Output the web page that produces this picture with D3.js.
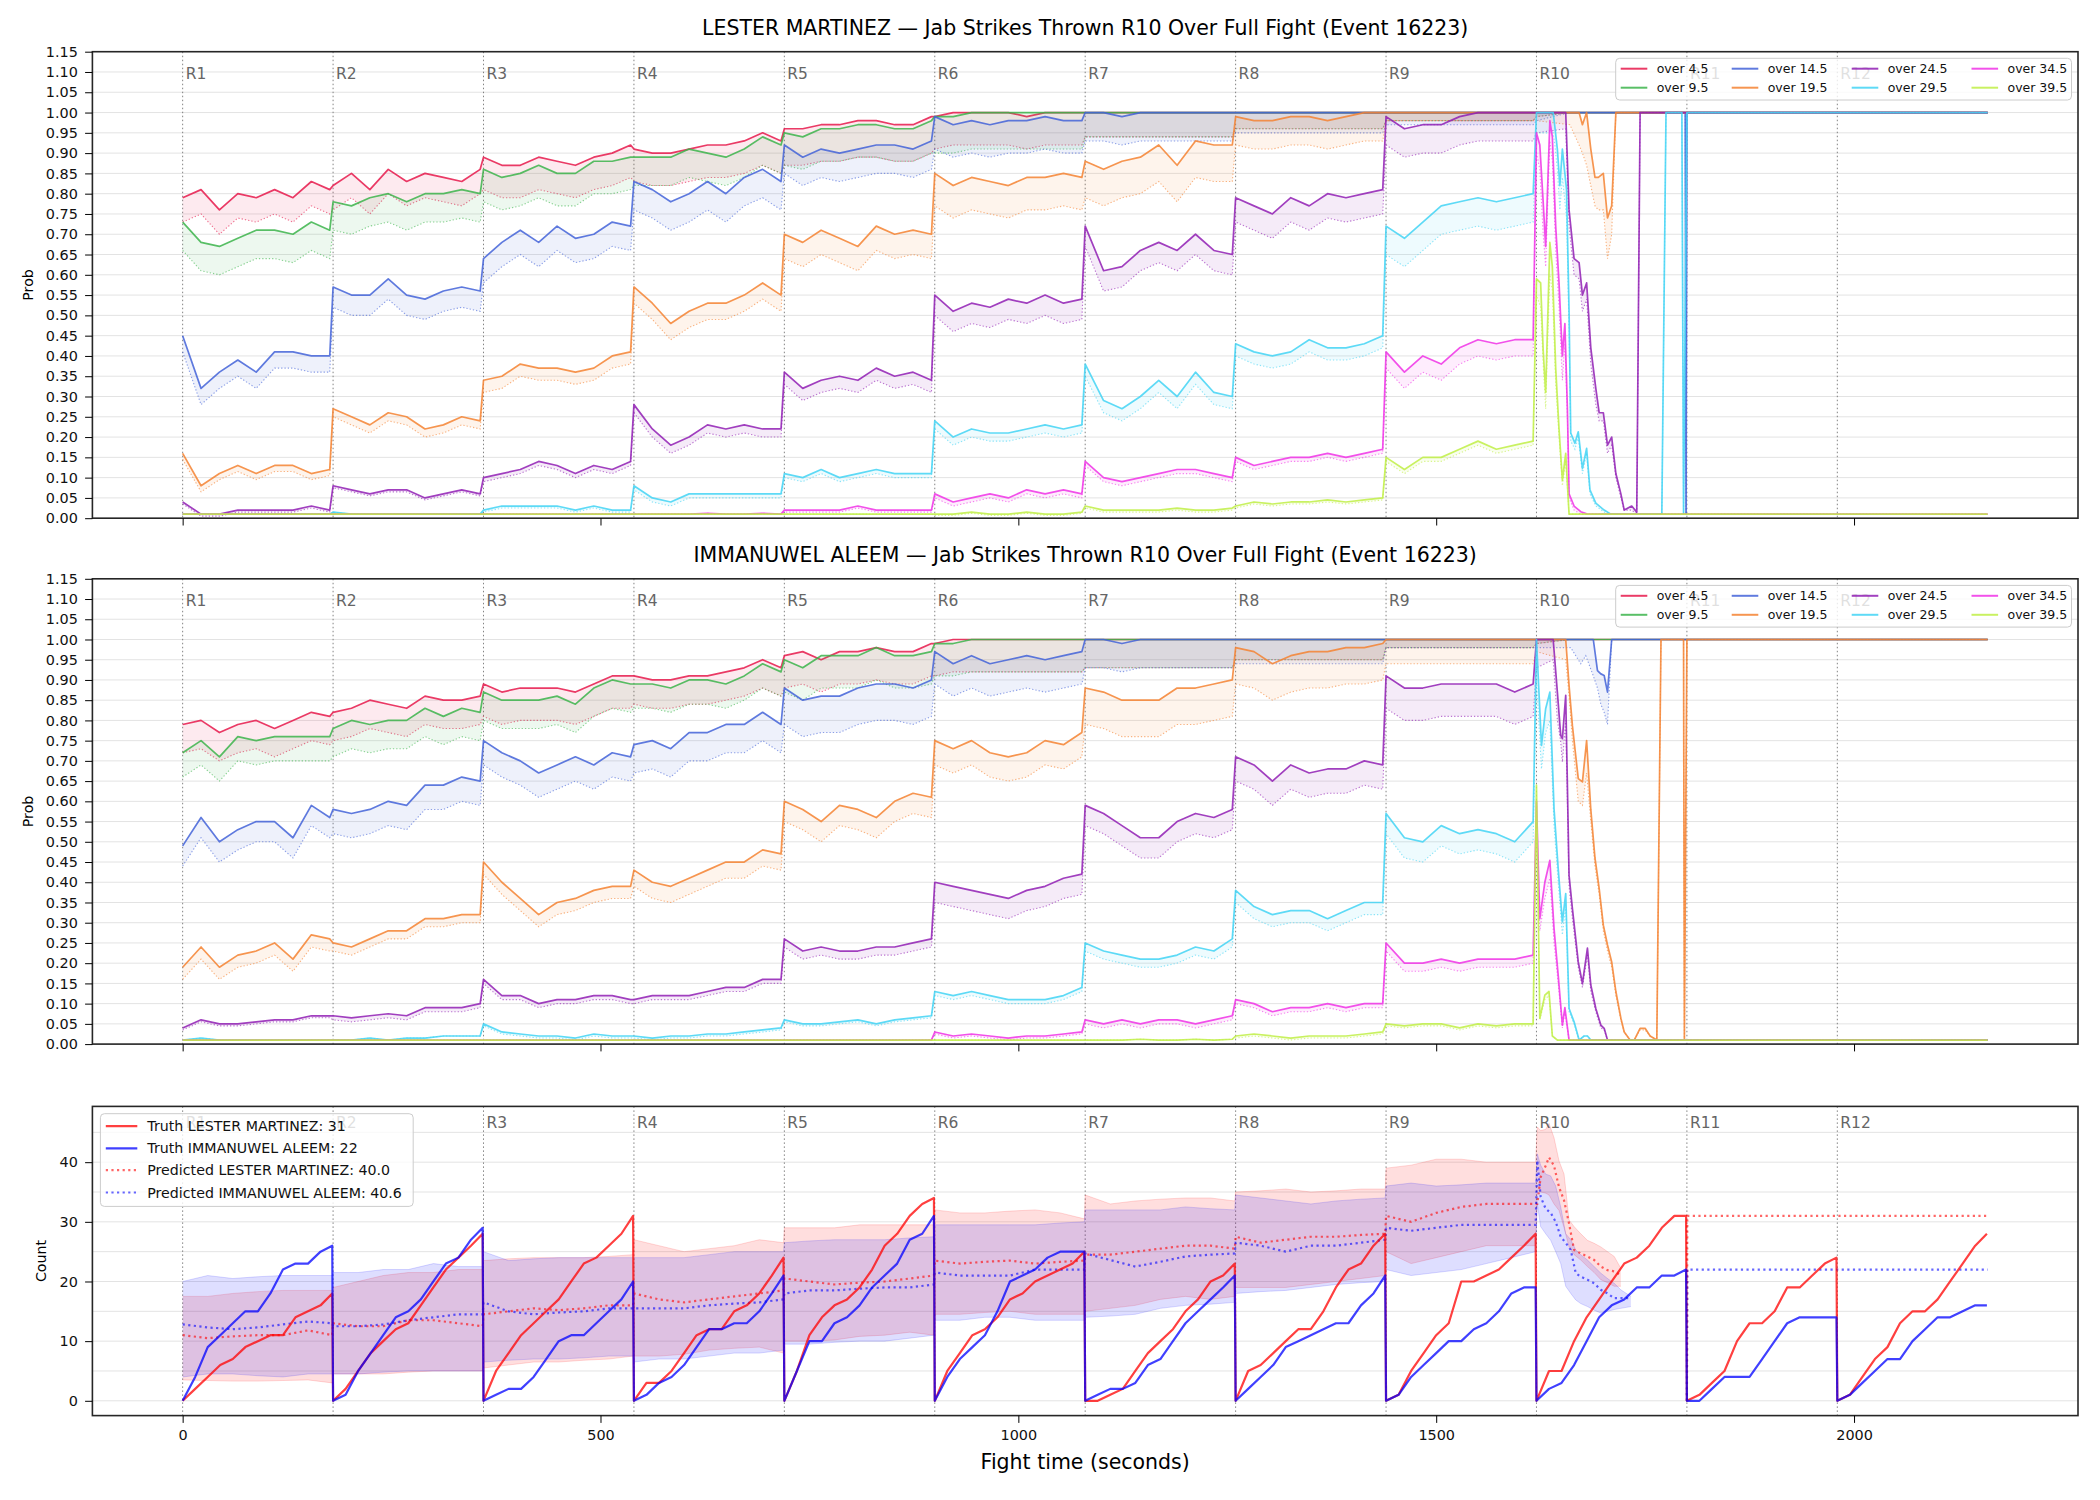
<!DOCTYPE html>
<html>
<head>
<meta charset="utf-8">
<script src="https://cdn.jsdelivr.net/npm/d3@7"></script>
<style>
  body { margin: 0; background: #fff; }
  text { font-family: "DejaVu Sans", sans-serif; }
</style>
</head>
<body>
<div id="chart"></div>
<script>
// ---------- DATA ----------
const roundLabels = ['R1','R2','R3','R4','R5','R6','R7','R8','R9','R10','R11','R12'];
const roundLen = 180;
const thresholds = ['over 4.5','over 9.5','over 14.5','over 19.5','over 24.5','over 29.5','over 34.5','over 39.5'];
const probTicks = [0,0.05,0.1,0.15,0.2,0.25,0.3,0.35,0.4,0.45,0.5,0.55,0.6,0.65,0.7,0.75,0.8,0.85,0.9,0.95,1,1.05,1.1,1.15];
const countTicks = [0,10,20,30,40];
const countGrid = [0,5,10,15,20,25,30,35,40,45];
const timeTicks = [0,500,1000,1500,2000];

// prob samples (percent) per round R1-R9, taken at these seconds into the round
const probOffsets = [0,22,44,66,88,110,132,154,176];
const ones = [1,1,1,1,1,1,1,1,1];
const full = [100,100,100,100,100,100,100,100,100];

// LESTER MARTINEZ
const lm4_5 = [[79,81,76,80,79,81,79,83,81],[82,85,81,86,83,85,84,83,86],[89,87,87,89,88,87,89,90,92],
  [91,90,90,91,92,92,93,95,93],[96,96,97,97,98,98,97,97,99],[99,100,100,100,100,99,100,100,100],full,full,full];
const lm9_5 = [[73,68,67,69,71,71,70,73,71],[78,77,79,80,78,80,80,81,80],[86,84,85,87,85,85,88,88,89],
  [89,89,89,91,90,89,91,94,92],[95,94,96,96,97,97,96,96,98],[99,99,100,100,100,100,100,100,100],full,full,full];
const lm14_5 = [[45,32,36,39,36,41,41,40,40],[57,55,55,59,55,54,56,57,56],[64,68,71,68,72,69,70,73,72],
  [83,81,78,80,83,80,84,86,83],[92,89,91,90,91,92,92,91,93],[99,97,98,97,98,98,99,98,98],
  [100,100,99,100,100,100,100,100,100],full,full];
const lm19_5 = [[16,8,11,13,11,13,13,11,12],[27,25,23,26,25,22,23,25,24],[34,35,38,37,37,36,37,40,41],
  [57,53,48,51,53,53,55,58,55],[70,68,71,69,67,72,70,71,70],[85,82,84,83,82,84,84,85,84],
  [88,86,88,89,92,87,93,92,92],[99,98,98,99,99,98,99,100,100],full];
const lm24_5 = [[4,1,1,2,2,2,2,3,2],[8,7,6,7,7,5,6,7,6],[10,11,12,14,13,11,13,12,14],
  [28,22,18,20,23,22,23,22,22],[36,32,34,35,34,37,35,36,34],[55,51,53,52,54,53,55,53,54],
  [72,61,62,66,68,66,70,66,65],[79,77,75,79,77,80,79,80,81],[99,96,97,97,99,100,100,100,100]];
const lm29_5 = [ones,[1.5,1,1,1,1,1,1,1,1],[2,3,3,3,3,2,3,2,2],[8,5,4,6,6,6,6,6,6],
  [11,10,12,10,11,12,11,11,11],[24,20,22,21,21,22,23,22,23],[38,29,27,30,34,30,36,31,30],
  [43,41,40,41,44,42,42,43,45],[72,69,73,77,78,79,78,79,80]];
const lm34_5 = [ones,ones,ones,[1,1,1,1,1.2,1,1,1.2,1],[2,2,2,2,3,2,2,2,2],[6,4,5,6,5,7,6,7,6],
  [14,10,9,10,11,12,12,11,10],[15,13,14,15,15,16,15,16,17],[41,36,40,38,42,44,43,44,44]];
const lm39_5 = [ones,ones,ones,ones,ones,[1,1,1.5,1,1,1.5,1,1,1.5],[3,2,2,2,2,2.5,2,2,2.5],
  [3,4,3.5,4,4,4.5,4,4.5,5],[15,12,15,15,17,19,17,18,19]];
// distance down to the dotted line, per threshold per round (percent)
const lmGap = [[6,6,8,8,9,8,6,4,2],[7,7,8,7,8,9,6,4,2],[4,5,6,7,7,8,7,5,3],[1.5,2,3,4,6,8,9,7,2],
  [0.5,0.5,1,2,3,5,5,6,7],[0,0,0.5,1,1,2,3,3,7],[0,0,0,0,0.5,1,1,1,4],[0,0,0,0,0,0.3,0.5,0.5,1]];
// R10 onwards: [t, solid, dotted] (percent)
const lmTail = [
  [[1620,100,99],[1660,100,100],[2160,100,100]],
  [[1620,100,99],[1660,100,100],[2160,100,100]],
  [[1620,100,98],[1660,100,100],[1798,100,100],[1799,1,1],[1800,100,100],[2160,100,100]],
  [[1620,100,98],[1660,100,97],[1671,100,92],[1675,97,90],[1680,100,87],[1685,91,82],[1690,84,77],[1694,84,76],
   [1700,85,76],[1705,74,64],[1710,77,70],[1715,100,100],[2160,100,100]],
  [[1620,100,95],[1655,100,96],[1659,76,72],[1665,64,60],[1671,63,59],[1675,55,51],[1680,58,54],[1685,42,38],
   [1691,32,28],[1695,26,24],[1700,26,24],[1705,18,16],[1710,20,18],[1715,11,10],[1721,6,5],[1725,2,2],
   [1734,3,2],[1740,1.5,1],[1744,100,100],[2160,100,100]],
  [[1620,100,95],[1640,100,95],[1642,96.5,92],[1645,91,86],[1648,82,76],[1651,91,84],[1656,81,74],[1659,51,46],
   [1661,21,19],[1666,18.5,17],[1670,21.3,20],[1675,12.3,11],[1680,17.2,16],[1684,7,6],[1691,3.7,3],[1701,2,1.5],
   [1709,1,1],[1770,1,1],[1775,100,100],[1794,100,100],[1796,1,1],[1800,100,100],[2160,100,100]],
  [[1620,95,90],[1624,92,86],[1628,78,70],[1631,67,62],[1636,98,93],[1639,94,88],[1643,72,66],[1647,58,52],
   [1651,40,34],[1654,48,43],[1657,27,25],[1659,6,5],[1665,3,2],[1673,1.6,1],[1681,1,1],[2160,1,1]],
  [[1620,59,55],[1625,58,52],[1628,41.5,38],[1631,31,27],[1636,68,60],[1639,62,56],[1643,37,33],[1647,22,20],
   [1651,9.4,8],[1655,16,14],[1659,1,1],[2160,1,1]]
];

// IMMANUWEL ALEEM
const ia4_5 = [[79,80,77,79,80,78,80,82,81],[82,83,85,84,83,86,85,85,86],[89,87,88,88,88,87,89,91,91],
  [91,90,90,91,91,92,93,95,93],[96,97,95,97,97,98,97,97,99],[99,100,100,100,100,100,100,100,100],full,full,full];
const ia9_5 = [[72,75,71,76,75,76,76,76,76],[78,80,79,80,80,83,81,83,82],[87,85,85,85,86,84,88,90,89],
  [89,89,88,90,90,89,91,94,92],[95,93,96,96,96,98,96,96,97],[99,99,100,100,100,100,100,100,100],full,full,full];
const ia14_5 = [[49,56,50,53,55,55,51,59,56],[58,57,58,60,59,64,64,66,65],[75,72,70,67,69,71,69,72,71],
  [74,75,73,77,77,79,79,82,79],[88,85,86,86,88,89,89,88,90],[97,94,96,94,95,96,95,96,97],
  [100,100,99,100,100,100,100,100,100],full,full];
const ia19_5 = [[19,24,19,22,23,25,21,27,26],[25,24,26,28,28,31,31,32,32],[45,40,36,32,35,36,38,39,39],
  [43,40,39,41,43,45,45,48,47],[60,58,55,59,58,56,60,62,61],[75,73,75,72,71,72,75,74,77],
  [88,87,85,85,85,88,88,89,90],[98,97,94,96,97,97,98,98,99],full];
const ia24_5 = [[4,6,5,5,5.5,6,6,7,7],[7,6.5,7,7.5,7,9,9,9,10],[16,12,12,10,11,11,12,12,11],
  [11,12,12,12,13,14,14,16,16],[26,23,24,23,23,24,24,25,26],[40,39,38,37,36,38,39,41,42],
  [59,57,54,51,51,55,57,56,58],[71,69,65,69,67,68,68,70,69],[91,88,88,89,89,89,89,87,89]];
const ia29_5 = [[1,1.5,1,1,1,1,1,1,1],[1,1,1.5,1,1.5,1.5,2,2,2],[5,3,2.5,2,2,1.5,2.5,2,2],
  [2,1.5,2,2,2.5,2.5,3,3.5,4],[6,5,5,5.5,6,5,6,6.5,7],[13,12,13,12,11,11,11,12,14],
  [25,23,22,21,21,22,24,23,26],[38,34,32,33,33,31,33,35,35],[57,51,50,54,52,53,52,50,55]];
const ia34_5 = [ones,ones,ones,ones,ones,[3,2,2.5,2,1.5,2,2,2.5,3],[6,5,6,5,6,6,5,6,7],
  [11,10,8,9,9,10,9,10,10],[25,20,20,21,20,21,21,21,22]];
const ia39_5 = [ones,ones,ones,ones,ones,ones,[1,1,1,1.2,1,1,1.2,1,1.2],[2,2.5,2,1.5,2,2,2,2.5,3],
  [5,4.5,5,5,4,5,4.5,5,5]];
const iaGap = [[7,7,8,7,8,8,7,5,2],[6,7,7,6,8,8,7,5,2],[5,6,6,7,9,8,7,6,2],[3,2,3,4,5,6,9,9,6],
  [0.5,1,1,1,2,5,5,6,8],[0,0,0.5,0.5,0.5,1,2,3,5],[0,0,0,0,0,0.5,1,1,2],[0,0,0,0,0,0,0,0.5,0.5]];
const iaTail = [
  [[1620,100,99],[1660,100,100],[2160,100,100]],
  [[1620,100,99],[1660,100,100],[2160,100,100]],
  [[1620,100,98],[1661,100,98],[1673,100,94],[1679,100,96],[1688,100,91],[1693,92.3,88],[1697,91.5,84],
   [1701,91.1,82],[1705,87,79],[1710,100,100],[2160,100,100]],
  [[1620,100,97],[1655,100,95],[1659,88.6,86],[1663,78.7,75],[1670,65.6,60],[1675,64.8,59],[1680,75,67],
   [1685,58,55],[1690,46,44],[1695,38.5,37],[1700,29.4,28],[1705,24.5,23],[1710,20.3,19],[1715,13,12],
   [1721,6.4,6],[1725,3,3],[1732,1,1],[1737,1,1],[1744,3.9,3.5],[1750,3.9,3.5],[1756,2,2],[1764,1,1],
   [1769,100,100],[1796,100,100],[1797,1,1],[1800,100,100],[2160,100,100]],
  [[1620,100,93],[1640,100,95],[1645,87,80],[1649,76.3,74.7],[1651,75.5,69.7],[1655,86.2,80],[1659,41.7,39],
   [1663,33.5,31],[1670,20.3,19],[1675,15,14],[1681,23.7,22],[1685,14.6,13],[1691,8.8,8],[1697,4.7,4],
   [1701,3.9,3.5],[1705,1,1],[2160,1,1]],
  [[1620,100,90],[1626,73.8,68],[1631,82.9,77],[1636,87,80],[1641,58.2,54],[1646,43.4,40],[1651,30.2,27],
   [1655,37.2,34],[1659,8.8,8],[1665,5.5,5],[1671,1,1],[1677,2,2],[1681,2,2],[1685,1,1],[2160,1,1]],
  [[1620,60,55],[1624,31,28],[1630,40,36],[1636,45.4,41],[1641,28.6,25],[1646,17,15],[1651,4.7,4],
   [1654,9,8],[1659,1,1],[2160,1,1]],
  [[1620,64,60],[1624,6.4,6],[1630,12.1,11],[1635,13,12],[1639,2,2],[1645,1,1],[2160,1,1]]
];

// truth counts per round, taken at these seconds into the round
const truthOffsets = [0,15,30,45,60,75,90,105,120,135,150,165,179];
const lmTruth = [[0,2,4,6,7,9,10,11,11,14,15,16,18],[0,2,5,8,10,12,13,16,19,22,24,26,28],
  [0,5,8,11,13,15,17,20,23,24,26,28,31],[0,3,3,5,8,11,12,12,15,16,18,21,24],
  [0,5,11,14,16,17,19,22,26,28,31,33,34],[0,5,8,11,12,14,17,18,20,21,22,23,25],
  [0,0,1,2,5,8,10,12,15,17,20,21,23],[0,5,6,8,10,12,12,15,19,22,23,26,28],
  [0,1,5,8,11,13,20,20,21,22,24,26,28],[0,5,5,10,14,17,20,23,24,26,29,31,31],
  [0,1,3,5,10,13,13,15,19,19,21,23,24],[0,1,4,7,9,13,15,15,17,20,23,26,28]];
const iaTruth = [[0,4,9,11,13,15,15,18,22,23,23,25,26],[0,1,5,8,11,14,15,17,20,23,24,27,29],
  [0,1,2,2,4,7,10,11,11,13,15,17,20],[0,1,3,4,6,9,12,12,13,13,15,18,21],
  [0,5,10,10,13,14,16,19,21,23,27,28,31],[0,4,7,9,11,15,20,21,22,24,25,25,25],
  [0,1,2,2,3,6,7,10,13,15,17,19,21],[0,2,4,6,9,10,11,12,13,13,16,18,21],
  [0,1,4,6,8,10,10,12,13,15,18,19,19],[0,2,3,6,10,14,16,17,19,19,21,21,22],
  [0,0,2,4,4,4,7,10,13,14,14,14,14],[0,1,3,5,7,7,10,12,14,14,15,16,16]];

// predicted count + band per round R1-R9
const bandOffsets = [0,30,60,90,120,150,179];
const lmPred = [[11,10.5,10.8,11,11,11.8,11],[13,12.5,12.5,13.5,13.5,13,12.5],[14.5,15,15.5,15.2,15.5,16,16],
  [18,17,16.5,17,17.5,18,18.5],[20.5,20,19.5,19.8,20,20.5,21],[23.5,23,23.3,23.5,23,23.3,23.5],
  [24.5,24.5,25,25.5,26,26,25.5],[27.5,26.5,27,27.5,27.5,27.8,28],[31,30,31.5,32.5,33,33,33]];
const lmHi = [[17.5,17.5,18,18.3,18.5,18.5,18.5],[19,20,21,21.5,21.5,22,22],[23.5,23.8,24,24,24,24.2,24.5],
  [27,26,25,25.5,26,27,26.5],[29,29,29,29.5,29.5,29.5,29.5],[32,31.5,31.5,31.8,32,31.5,30.5],
  [34.5,33,33.5,33.8,34,34,33.5],[35,35.2,35.5,35,35.2,35.5,35.5],[39,39.5,40.5,40.5,40,40,40]];
const lmLo = [[3.5,3.4,3.3,3.3,3.4,3.5,3],[4.5,4.5,4.5,4.8,5,5,5],[5.5,6,6.5,6.5,6.8,7,7.5],
  [7.5,7.5,7.8,8.5,8.8,9,8],[10,10,10.2,10.8,11,11.5,11],[14.5,14.5,14.8,15,14.5,14.5,14.5],
  [15,15.5,16,17,17.5,17,17.5],[19,19,19,19.5,20,20.5,21],[25,23,24,25,26,26,26]];
const iaPred = [[12.8,12.3,12,12.3,12.8,13.3,13],[12.5,12.5,12.8,13.5,14,14.5,14.5],[16.5,15,14.5,14.8,15,15.5,15.5],
  [15.5,15.5,15.5,16,16.3,16.5,17],[18,18.5,18.5,18.8,19,19,19.5],[21.5,21,21,21,22,22,22],
  [24.7,23.6,22.5,23.3,24.2,24.5,24.7],[26.5,26,25,26,26,26.5,27],[29,28.5,29,29.5,29.5,29.5,29.5]];
const iaHi = [[20,21,20.5,20.8,21,21,21],[21.5,21.5,22,22,23,22.5,22.5],[25,23.5,23.8,24,24,24,24],
  [24,24,24,24.5,25,25,25],[26.5,26.8,27,27,27,27.3,27.5],[29.5,29.5,29.5,29.5,29.5,29.8,30],
  [32,32,32,32,32.5,32.2,32],[34.5,34,33.5,33,33.5,33.8,34],[36,36.5,36,36.2,36.5,36.5,36.5]];
const iaLo = [[4,4.5,4.5,4.2,4,4.5,4.5],[4.5,4.5,4.8,5,5,5,5],[6.5,6.8,7,7,7.2,7.5,7.5],
  [6.5,7,7,7.5,8,8,8.5],[9.5,9.5,9.8,10,10,10.5,11],[13.5,13.5,14,14,13.5,13.5,13.5],
  [14,14.2,14.5,15.5,16,16.2,16.5],[18,18.3,18.5,19,19.5,19.8,20],[22,21,21.5,22,23,24,25]];
// R10 part of the prediction
const lmR10T = [1621,1625,1631,1635,1641,1647,1653,1659,1665,1673,1681,1689,1697,1705,1713,1721];
const lmR10Pred = [33,37.5,39.4,40.8,39.4,35.8,33.6,29.7,25.3,24.7,24.2,23.6,22.5,21.9,21.7,21.1];
const lmR10Hi = [45.9,45.3,45.5,46.5,44.1,40.2,38,30.3,29.2,28,26.9,26.4,25.8,25,24.2,22.2];
const lmR10Lo = [35.3,35,34.8,34.5,33,31.9,29,25.8,24.5,23.6,22.5,21.5,20.3,19.8,19.2,19.2];
const iaR10T = [1621,1625,1631,1637,1643,1649,1655,1661,1667,1673,1681,1689,1697,1705,1713,1721,1733];
const iaR10Pred = [40.3,34.2,32.2,31.5,30,27.5,26.5,25.3,21.4,20.8,20.3,19.7,18.6,18,17.2,17.2,17.2];
const iaR10Hi = [41.4,39.5,38,37.7,36,32.5,28,27,25.3,24.5,23.6,22.5,21.4,20.5,19.7,18.6,17.5];
const iaR10Lo = [33,29.2,28,26.9,25,23,19.2,18,16.9,16.3,15.8,15.2,14.7,15,15.3,15.5,15.8];
// after R10 the prediction is flat
const postT = [1800,1800.5,2160];
const lmPost = [0,31,31];
const iaPost = [0,22,22];

const legendBottom = ['Truth LESTER MARTINEZ: 31','Truth IMMANUWEL ALEEM: 22',
  'Predicted LESTER MARTINEZ: 40.0','Predicted IMMANUWEL ALEEM: 40.6'];

// ---------- CHART ----------
const W = 2100, H = 1500;
const colors = ['#e6194b','#3cb44b','#4363d8','#f58231','#911eb4','#42d4f4','#f032e6','#bfef45'];
const L = 92.4, R = 2078;

const svg = d3.select('#chart').append('svg').attr('width', W).attr('height', H);
svg.append('rect').attr('width', W).attr('height', H).attr('fill', '#fff');

const x = d3.scaleLinear().domain([-108, 2268]).range([L, R]);

const panels = [
  {top: 51.7, bottom: 518.2, title: 'LESTER MARTINEZ \u2014 Jab Strikes Thrown R10 Over Full Fight (Event 16223)',
   series: [lm4_5, lm9_5, lm14_5, lm19_5, lm24_5, lm29_5, lm34_5, lm39_5], gap: lmGap, tail: lmTail},
  {top: 578.8, bottom: 1044.1, title: 'IMMANUWEL ALEEM \u2014 Jab Strikes Thrown R10 Over Full Fight (Event 16223)',
   series: [ia4_5, ia9_5, ia14_5, ia19_5, ia24_5, ia29_5, ia34_5, ia39_5], gap: iaGap, tail: iaTail}
];
const countPanel = {top: 1106.4, bottom: 1415.6};

function base(p, y, gridVals, id) {
  const g = svg.append('g');
  g.selectAll('line.grid').data(gridVals).enter().append('line')
    .attr('x1', L).attr('x2', R).attr('y1', d => y(d)).attr('y2', d => y(d))
    .attr('stroke', '#e3e3e3').attr('stroke-width', 1);
  svg.append('clipPath').attr('id', id).append('rect')
    .attr('x', L).attr('y', p.top).attr('width', R - L).attr('height', p.bottom - p.top);
  g.selectAll('line.round').data(roundLabels).enter().append('line')
    .attr('x1', (d, i) => x(i * roundLen)).attr('x2', (d, i) => x(i * roundLen))
    .attr('y1', p.top).attr('y2', p.bottom)
    .attr('stroke', '#666').attr('stroke-width', 1).attr('stroke-dasharray', '1.5,2.5').attr('opacity', 0.8);
  return svg.append('g').attr('clip-path', 'url(#' + id + ')');
}

function frameAndAxes(p, y, yTickVals, fmt, showX) {
  svg.append('rect').attr('x', L).attr('y', p.top).attr('width', R - L).attr('height', p.bottom - p.top)
    .attr('fill', 'none').attr('stroke', '#262626').attr('stroke-width', 1.6);
  const ya = svg.append('g').attr('transform', 'translate(' + L + ',0)')
    .call(d3.axisLeft(y).tickValues(yTickVals).tickFormat(fmt).tickSize(7.3).tickPadding(7.3));
  ya.select('.domain').remove();
  ya.attr('font-size', 14.4).attr('font-family', 'DejaVu Sans');
  ya.selectAll('text').attr('fill', '#111');
  const xa = svg.append('g').attr('transform', 'translate(0,' + p.bottom + ')')
    .call(d3.axisBottom(x).tickValues(timeTicks).tickFormat(showX ? d3.format('d') : '').tickSize(7.3).tickPadding(7.3));
  xa.select('.domain').remove();
  xa.attr('font-size', 14.4).attr('font-family', 'DejaVu Sans');
  xa.selectAll('text').attr('fill', '#111');
}

function roundText(p, off) {
  svg.append('g').selectAll('text').data(roundLabels).enter().append('text')
    .attr('x', (d, i) => x(i * roundLen) + 3).attr('y', p.top + off)
    .attr('dominant-baseline', 'central').attr('font-size', 15.5)
    .attr('fill', '#555').attr('opacity', 0.9).text(d => d);
}

// ---- the two probability panels
panels.forEach((p, pi) => {
  const y = d3.scaleLinear().domain([0, 1.15]).range([p.bottom, p.top]);
  const g = base(p, y, probTicks, 'clipP' + pi);

  const line = d3.line().x(d => x(d.t)).y(d => y(d.v));
  const loLine = d3.line().x(d => x(d.t)).y(d => y(d.lo));
  const area = d3.area().x(d => x(d.t)).y0(d => y(d.lo)).y1(d => y(d.v));

  p.series.forEach((rounds, si) => {
    const pts = [];
    rounds.forEach((vals, r) => vals.forEach((v, k) => {
      pts.push({t: r * roundLen + probOffsets[k], v: v / 100, lo: Math.max(0, v - p.gap[si][r]) / 100});
    }));
    p.tail[si].forEach(d => pts.push({t: d[0], v: d[1] / 100, lo: d[2] / 100}));
    const col = colors[si];
    g.append('path').datum(pts).attr('d', area).attr('fill', col).attr('fill-opacity', 0.09);
    g.append('path').datum(pts).attr('d', loLine).attr('fill', 'none').attr('stroke', col)
      .attr('stroke-width', 1.1).attr('stroke-dasharray', '1.3,2').attr('stroke-opacity', 0.6);
    g.append('path').datum(pts).attr('d', line).attr('fill', 'none').attr('stroke', col)
      .attr('stroke-width', 1.7).attr('stroke-opacity', 0.85).attr('stroke-linejoin', 'round');
  });

  frameAndAxes(p, y, probTicks, d3.format('.2f'), false);
  roundText(p, 22);

  svg.append('text').attr('x', (L + R) / 2).attr('y', p.top - 16.5).attr('text-anchor', 'middle')
    .attr('font-size', 20.5).attr('fill', '#000').text(p.title);
  svg.append('text').attr('transform', 'translate(28,' + (p.top + p.bottom) / 2 + ') rotate(-90)')
    .attr('text-anchor', 'middle').attr('dominant-baseline', 'central').attr('font-size', 14.2).text('Prob');

  // legend, 4 columns x 2 rows
  const lg = svg.append('g');
  lg.append('rect').attr('x', 1615.7).attr('y', p.top + 6.6).attr('width', 455.8).attr('height', 41.7)
    .attr('rx', 4).attr('fill', '#fff').attr('fill-opacity', 0.8).attr('stroke', '#cccccc').attr('stroke-width', 1);
  const colX = [1620.7, 1731.7, 1851.7, 1971.5];
  thresholds.forEach((name, i) => {
    const cx = colX[Math.floor(i / 2)], cy = p.top + (i % 2 === 0 ? 17 : 36);
    lg.append('line').attr('x1', cx).attr('x2', cx + 26.6).attr('y1', cy).attr('y2', cy)
      .attr('stroke', colors[i]).attr('stroke-width', 2).attr('stroke-opacity', 0.85);
    lg.append('text').attr('x', cx + 36).attr('y', cy).attr('dominant-baseline', 'central')
      .attr('font-size', 12.5).attr('fill', '#111').text(name);
  });
});

// ---- count panel
const p3 = countPanel;
const yc = d3.scaleLinear().domain([-2.48, 49.35]).range([p3.bottom, p3.top]);
const g3 = base(p3, yc, countGrid, 'clipC');

function bandPoints(pred, lo, hi, tT, tP, tLo, tHi) {
  const pts = [];
  pred.forEach((row, r) => row.forEach((v, k) => {
    pts.push({t: r * roundLen + bandOffsets[k], p: v, lo: lo[r][k], hi: hi[r][k]});
  }));
  tT.forEach((t, i) => pts.push({t: t, p: tP[i], lo: tLo[i], hi: tHi[i]}));
  return pts;
}
function truthPoints(rounds) {
  const pts = [];
  rounds.forEach((vals, r) => vals.forEach((v, k) => pts.push({t: r * roundLen + truthOffsets[k], c: v})));
  return pts;
}

const lmBand = bandPoints(lmPred, lmLo, lmHi, lmR10T, lmR10Pred, lmR10Lo, lmR10Hi);
const iaBand = bandPoints(iaPred, iaLo, iaHi, iaR10T, iaR10Pred, iaR10Lo, iaR10Hi);
const bandArea = d3.area().x(d => x(d.t)).y0(d => yc(d.lo)).y1(d => yc(d.hi));
const hiLine = d3.line().x(d => x(d.t)).y(d => yc(d.hi));
const loLineC = d3.line().x(d => x(d.t)).y(d => yc(d.lo));
const predLine = d3.line().x(d => x(d.t)).y(d => yc(d.p));
const truthLine = d3.line().x(d => x(d.t)).y(d => yc(d.c));

[[lmBand, '#ff0000'], [iaBand, '#0000ff']].forEach(([pts, col]) => {
  g3.append('path').datum(pts).attr('d', bandArea).attr('fill', col).attr('fill-opacity', 0.13);
  g3.append('path').datum(pts).attr('d', hiLine).attr('fill', 'none').attr('stroke', col).attr('stroke-opacity', 0.15);
  g3.append('path').datum(pts).attr('d', loLineC).attr('fill', 'none').attr('stroke', col).attr('stroke-opacity', 0.15);
});

[[lmBand, lmPost, '#ff0000'], [iaBand, iaPost, '#0000ff']].forEach(([pts, post, col]) => {
  const postPts = postT.map((t, i) => ({t: t, p: post[i]}));
  [pts, postPts].forEach(d => {
    g3.append('path').datum(d).attr('d', predLine).attr('fill', 'none').attr('stroke', col)
      .attr('stroke-width', 2.2).attr('stroke-dasharray', '2.2,3.4').attr('stroke-opacity', 0.6);
  });
});

[[lmTruth, '#ff0000'], [iaTruth, '#0000ff']].forEach(([rounds, col]) => {
  g3.append('path').datum(truthPoints(rounds)).attr('d', truthLine).attr('fill', 'none')
    .attr('stroke', col).attr('stroke-width', 2.2).attr('stroke-opacity', 0.75).attr('stroke-linejoin', 'round');
});

frameAndAxes(p3, yc, countTicks, d3.format('d'), true);
roundText(p3, 17);

svg.append('text').attr('transform', 'translate(41,' + (p3.top + p3.bottom) / 2 + ') rotate(-90)')
  .attr('text-anchor', 'middle').attr('dominant-baseline', 'central').attr('font-size', 14.2).text('Count');
svg.append('text').attr('x', (L + R) / 2).attr('y', 1469).attr('text-anchor', 'middle')
  .attr('font-size', 20.5).attr('fill', '#000').text('Fight time (seconds)');

// bottom legend
const lg3 = svg.append('g');
lg3.append('rect').attr('x', 100.4).attr('y', 1113.7).attr('width', 312.8).attr('height', 92.7)
  .attr('rx', 4).attr('fill', '#fff').attr('fill-opacity', 0.8).attr('stroke', '#cccccc').attr('stroke-width', 1);
const rowsY = [1126.2, 1148.3, 1170.1, 1192.5];
const legCols = ['#ff0000', '#0000ff', '#ff0000', '#0000ff'];
legendBottom.forEach((name, i) => {
  const ln = lg3.append('line').attr('x1', 105.8).attr('x2', 137.3).attr('y1', rowsY[i]).attr('y2', rowsY[i])
    .attr('stroke', legCols[i]).attr('stroke-width', 2.2).attr('stroke-opacity', i < 2 ? 0.75 : 0.6);
  if (i >= 2) ln.attr('stroke-dasharray', '2.2,3.4');
  lg3.append('text').attr('x', 147.3).attr('y', rowsY[i]).attr('dominant-baseline', 'central')
    .attr('font-size', 14.2).attr('fill', '#111').text(name);
});
</script>
</body>
</html>
